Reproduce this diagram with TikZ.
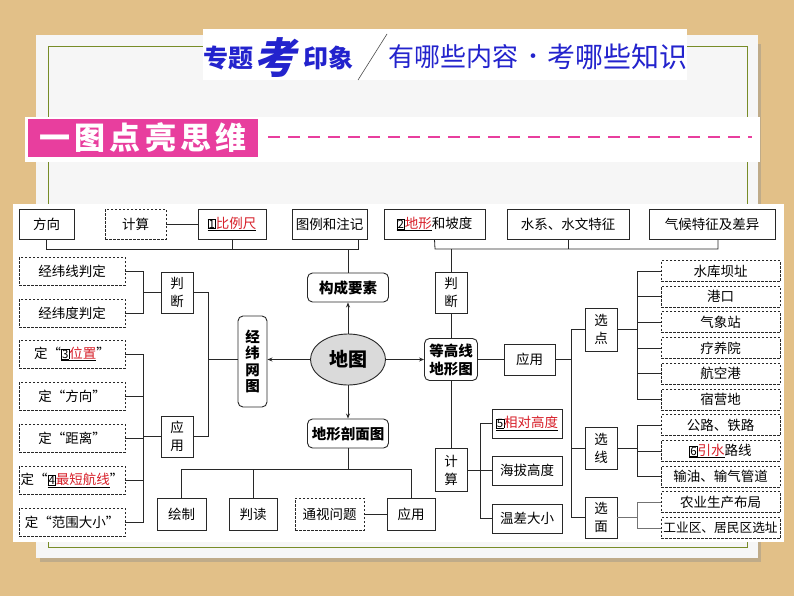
\documentclass[tikz,border=0pt]{standalone}
\usepackage{fontspec}
\setmainfont{Noto Sans CJK SC}
\usetikzlibrary{arrows.meta,shapes.geometric}
\definecolor{wood}{RGB}{226,192,136}
\definecolor{paperc}{RGB}{246,246,246}
\definecolor{framegreen}{RGB}{120,140,40}
\definecolor{titleblue}{RGB}{35,35,205}
\definecolor{pinkc}{RGB}{232,62,158}
\definecolor{redtxt}{RGB}{215,30,40}
\definecolor{linec}{RGB}{40,40,40}
\definecolor{ovalgray}{RGB}{218,218,218}
\newcommand\bnum[1]{{\setlength\fboxsep{0.4pt}\setlength\fboxrule{0.5pt}\fbox{\fontsize{11.5}{11.5}\selectfont #1}}}
\newcommand\rtxt[1]{\textcolor{redtxt}{#1}}
\tikzset{
  sbox/.style={draw=linec, line width=0.9pt, fill=white, inner sep=0pt, align=center,
    font=\fontsize{13.5}{18}\selectfont},
  dsbox/.style={sbox, dash pattern=on 2.5pt off 1.5pt},
  rsbox/.style={sbox, rounded corners=5pt, font=\bfseries\fontsize{14.5}{17}\selectfont},
  rbx/.style={dsbox, minimum width=119, minimum height=21},
  conn/.style={draw=linec, line width=0.8pt},
  arr/.style={conn, -{Stealth[length=5pt,width=4pt]}},
  ttl/.style={inner sep=0pt, text=titleblue, anchor=west}
}
\begin{document}
\begin{tikzpicture}[x=1pt,y=-1pt]
\useasboundingbox (0,0) rectangle (794,596);
\fill[wood] (0,0) rectangle (794,596);
\fill[black!45,opacity=.4] (40,44) rectangle (761,562);
\fill[paperc] (36,35) rectangle (758,558);
\draw[framegreen, line width=1pt] (48,47) rectangle (747,547);
% title
\fill[white] (203,29) rectangle (687,80);
\node[ttl, font=\bfseries\fontsize{25}{25}\selectfont] (t1) at (203,58) {专题};
\node[ttl, font=\bfseries\fontsize{42}{42}\selectfont\addfontfeatures{FakeSlant=0.2}] (t2) at ([xshift=1pt]t1.east) {考};
\node[ttl, font=\bfseries\fontsize{25}{25}\selectfont] (t3) at ([xshift=6pt]t2.east |- t1.east) {印象};
\coordinate (s1) at (358,80); \coordinate (s2) at (387,34);
\draw[black!70, line width=0.6pt] (s1) -- (s2);
\node[ttl, font=\fontsize{26}{26}\selectfont] (t4) at (388,57) {有哪些内容};
\node[inner sep=0pt, text=titleblue, font=\fontsize{22}{22}\selectfont] (t5) at (533,59) {•};
\node[ttl, anchor=east, font=\fontsize{28}{28}\selectfont] (t6) at (688,57) {考哪些知识};
% pink band
\fill[white] (25,117) rectangle (760,162);
\node[fill=pinkc, minimum width=230, minimum height=38, inner sep=0pt, text=white,
  font=\bfseries\fontsize{31}{31}\selectfont\addfontfeatures{LetterSpace=14}] (yt) at (143,138) {一图点亮思维};
\coordinate (dl1) at (268,137); \coordinate (dl2) at (752,137);
\draw[pinkc, line width=1.2pt, dash pattern=on 12pt off 8pt] (dl1) -- (dl2);
% panel
\fill[white] (13,204) rectangle (784,542);
% top row
\node[sbox, minimum width=55, minimum height=30] (fx) at (46.5,224) {方向};
\node[dsbox, minimum width=61, minimum height=30] (js1) at (135.5,224) {计算};
\node[sbox, minimum width=68, minimum height=30] (bl) at (232,224) {\underline{\bnum{1}\rtxt{比例尺}}};
\node[sbox, minimum width=75, minimum height=30] (tl) at (329.5,224) {图例和注记};
\node[sbox, minimum width=101, minimum height=30] (dx) at (434.5,224) {\underline{\bnum{2}\rtxt{地形}}和坡度};
\node[sbox, minimum width=122, minimum height=30] (sx) at (568,224) {水系、水文特征};
\node[sbox, minimum width=126, minimum height=30] (qh) at (712,224) {气候特征及差异};
% center
\node[rsbox, minimum width=81, minimum height=29] (gc) at (348,287.5) {构成要素};
\node[draw=linec, line width=0.9pt, fill=ovalgray, ellipse, minimum width=75, minimum height=51, inner sep=0pt,
  font=\bfseries\fontsize{19}{19}\selectfont] (dt) at (348,359.5) {地图};
\node[rsbox, minimum width=29, minimum height=91, font=\bfseries\fontsize{14.5}{16.5}\selectfont] (jw) at (252.5,361.5) {经\\纬\\网\\图};
\node[rsbox, minimum width=81, minimum height=29] (dp) at (348,433.5) {地形剖面图};
\node[rsbox, minimum width=53, minimum height=42, font=\bfseries\fontsize{14.5}{18}\selectfont] (dgx) at (451,359.5) {等高线\\地形图};
\node[sbox, minimum width=32, minimum height=41] (pdR) at (451,292.5) {判\\断};
\node[sbox, minimum width=32, minimum height=43] (jsR) at (451,470) {计\\算};
\node[sbox, minimum width=51, minimum height=31] (yyR) at (529.5,359.5) {应用};
% left
\node[dsbox, minimum width=106, minimum height=28] (jx) at (72,271) {经纬线判定};
\node[dsbox, minimum width=106, minimum height=28] (jd) at (72,313) {经纬度判定};
\node[sbox, minimum width=32, minimum height=41] (pdL) at (177,292.5) {判\\断};
\node[dsbox, minimum width=106, minimum height=28] (d1) at (72,354) {定“\underline{\bnum{3}\rtxt{位置}}”};
\node[dsbox, minimum width=106, minimum height=28] (d2) at (72,396) {定“方向”};
\node[dsbox, minimum width=106, minimum height=28] (d3) at (72,438) {定“距离”};
\node[dsbox, minimum width=106, minimum height=28] (d4) at (72,480) {定“\underline{\bnum{4}\rtxt{最短航线}}”};
\node[dsbox, minimum width=106, minimum height=28] (d5) at (72,522) {定“范围大小”};
\node[sbox, minimum width=32, minimum height=41] (yyL) at (177,436.5) {应\\用};
% bottom
\node[sbox, minimum width=49, minimum height=32] (hz) at (181.5,514) {绘制};
\node[sbox, minimum width=48, minimum height=32] (pd2) at (253,514) {判读};
\node[dsbox, minimum width=69, minimum height=32] (tswt) at (329.5,514) {通视问题};
\node[sbox, minimum width=48, minimum height=32] (yyB) at (411,514) {应用};
% calc
\node[sbox, minimum width=70, minimum height=29] (xd) at (527,423.5) {\underline{\bnum{5}\rtxt{相对高度}}};
\node[sbox, minimum width=70, minimum height=29] (hb) at (527,470.5) {海拔高度};
\node[sbox, minimum width=70, minimum height=29] (wc) at (527,518.5) {温差大小};
% select
\node[sbox, minimum width=32, minimum height=43] (xdian) at (601,329.5) {选\\点};
\node[sbox, minimum width=32, minimum height=42] (xxian) at (601,448) {选\\线};
\node[sbox, minimum width=32, minimum height=41] (xmian) at (601,517.5) {选\\面};
% right column
\node[rbx] (r1) at (720.5,271) {水库坝址};
\node[rbx] (r2) at (720.5,296.7) {港口};
\node[rbx] (r3) at (720.5,322.4) {气象站};
\node[rbx] (r4) at (720.5,348.1) {疗养院};
\node[rbx] (r5) at (720.5,373.8) {航空港};
\node[rbx] (r6) at (720.5,399.5) {宿营地};
\node[rbx] (r7) at (720.5,425.2) {公路、铁路};
\node[rbx] (r8) at (720.5,450.9) {\underline{\bnum{6}\rtxt{引水}}路线};
\node[rbx] (r9) at (720.5,476.6) {输油、输气管道};
\node[rbx] (r10) at (720.5,502.3) {农业生产布局};
\node[rbx, font=\fontsize{12.7}{14}\selectfont] (r11) at (720.5,528) {工业区、居民区选址};
% connectors: top left bus
\coordinate (bA) at (46.5,249); \coordinate (bB) at (358,249);
\draw[conn] (fx.south) -- (bA) -- (bB) -- (bB |- tl.south);
\draw[conn] (bl.south) -- (bl.south |- bA);
\draw[conn] (gc.north) -- (gc.north |- bA);
\draw[conn] (js1.east) -- (bl.west);
% top right bus
\coordinate (bC) at (435,249); \coordinate (bD) at (718,249);
\draw[conn] (dx.south) -- (bC) -- (bD) -- (bD |- qh.south);
\draw[conn] (sx.south) -- (sx.south |- bC);
\draw[conn] (pdR.north) -- (pdR.north |- bC);
\draw[conn] (pdR.south) -- (dgx.north);
\draw[conn] (dgx.south) -- (jsR.north);
% arrows
\draw[arr] (dt.north) -- (gc.south);
\draw[arr] (dt.south) -- (dp.north);
\draw[arr] (dt.west) -- (dt.west -| jw.east);
\draw[arr] (dt.east) -- (dt.east -| dgx.west);
% left upper
\coordinate (lA) at (143,271); \coordinate (lB) at (143,313);
\draw[conn] (jx.east) -- (lA) -- (lB) -- (jd.east);
\draw[conn] (pdL.west) -- (pdL.west -| lA);
\coordinate (lC) at (208,292.5); \coordinate (lD) at (208,436.5);
\draw[conn] (pdL.east) -- (lC) -- (lD) -- (yyL.east);
\draw[conn] (jw.west |- dt.west) -- (lC |- dt.west);
% left lower
\coordinate (lE) at (143,354); \coordinate (lF) at (143,522);
\draw[conn] (d1.east) -- (lE) -- (lF) -- (d5.east);
\draw[conn] (d2.east) -- (d2.east -| lE);
\draw[conn] (d3.east) -- (d3.east -| lE);
\draw[conn] (d4.east) -- (d4.east -| lE);
\draw[conn] (yyL.west) -- (yyL.west -| lE);
% bottom bus
\coordinate (bE) at (181.5,469); \coordinate (bF) at (411,469);
\draw[conn] (hz.north) -- (bE) -- (bF) -- (yyB.north);
\draw[conn] (pd2.north) -- (pd2.north |- bE);
\draw[conn] (dp.south) -- (dp.south |- bE);
\draw[conn] (tswt.east) -- (yyB.west);
% calc branch
\coordinate (cA) at (480,423.5); \coordinate (cB) at (480,518.5);
\draw[conn] (xd.west) -- (cA) -- (cB) -- (wc.west);
\draw[conn] (hb.west) -- (hb.west -| cA);
\draw[conn] (jsR.east) -- (jsR.east -| cA);
% application branch
\draw[conn] (dgx.east) -- (yyR.west);
\coordinate (aA) at (571,329.5); \coordinate (aB) at (571,517.5);
\draw[conn] (xdian.west) -- (aA) -- (aB) -- (xmian.west);
\draw[conn] (xxian.west) -- (xxian.west -| aA);
\draw[conn] (yyR.east) -- (yyR.east -| aA);
% right branches
\coordinate (pA) at (637,271); \coordinate (pB) at (637,399.5);
\draw[conn] (r1.west) -- (pA) -- (pB) -- (r6.west);
\foreach \n in {r2,r3,r4,r5} \draw[conn] (\n.west) -- (\n.west -| pA);
\draw[conn] (xdian.east) -- (xdian.east -| pA);
\coordinate (pC) at (637,425.2); \coordinate (pD) at (637,476.6);
\draw[conn] (r7.west) -- (pC) -- (pD) -- (r9.west);
\draw[conn] (r8.west) -- (r8.west -| pC);
\draw[conn] (xxian.east) -- (xxian.east -| pC);
\coordinate (pE) at (637,502.3); \coordinate (pF) at (637,528);
\draw[conn, draw=black!55] (r10.west) -- (pE) -- (pF) -- (r11.west);
\draw[conn, draw=black!55] (xmian.east) -- (xmian.east -| pE);
\end{tikzpicture}
\end{document}
